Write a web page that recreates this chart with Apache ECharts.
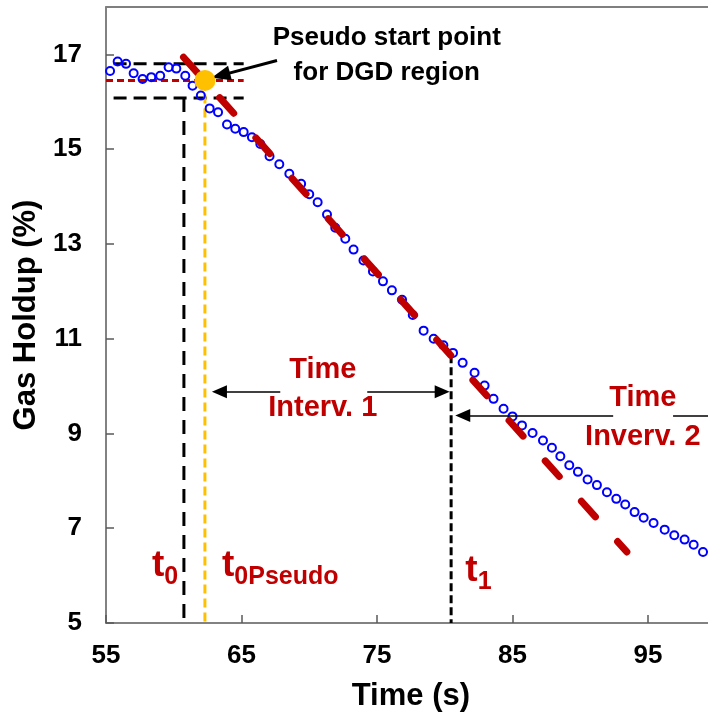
<!DOCTYPE html>
<html>
<head>
<meta charset="utf-8">
<script src="https://cdn.jsdelivr.net/npm/echarts@6/dist/echarts.min.js"></script>
<style>
html,body{margin:0;padding:0;background:#fff;}
#chart{width:708px;height:715px;}
</style>
</head>
<body>
<div id="chart"></div>
<script>
// ---- measured data ----
const timeS = [55.30,55.86,56.48,57.04,57.70,58.34,59.00,59.62,60.19,60.85,61.39,62.00,62.65,63.27,63.93,64.54,65.16,65.77,66.39,67.07,67.79,68.53,69.40,70.00,70.62,71.31,71.92,72.66,73.27,74.00,74.70,75.44,76.10,76.85,77.64,78.44,79.18,79.90,80.61,81.32,82.20,82.94,83.60,84.34,85.00,85.70,86.48,87.25,87.91,88.53,89.19,89.83,90.54,91.23,91.97,92.66,93.32,94.01,94.68,95.41,96.23,96.94,97.70,98.37,99.06];
const holdup = [16.65,16.85,16.80,16.60,16.48,16.52,16.55,16.73,16.70,16.55,16.34,16.13,15.86,15.78,15.52,15.43,15.36,15.25,15.11,14.85,14.68,14.48,14.27,14.05,13.88,13.62,13.34,13.11,12.88,12.65,12.42,12.21,12.02,11.82,11.50,11.17,11.00,10.86,10.70,10.49,10.28,10.01,9.73,9.52,9.36,9.17,9.01,8.85,8.70,8.52,8.33,8.19,8.03,7.91,7.76,7.62,7.50,7.34,7.22,7.11,6.97,6.85,6.76,6.65,6.50];

const fitT = [60.72, 93.44];
const fitH = [16.94, 6.50];

const bandT = [55.56, 65.16];
const bandUpper = 16.80;
const bandLower = 16.08;
const refLineT = [55.0, 65.16];
const refLineH = 16.45;

const t0 = 60.75;
const t0Pseudo = 62.3;
const t1 = 80.47;
const t1Holdup = 10.65;
const pseudoPoint = [62.3, 16.45];

const xTickValues = [55, 65, 75, 85, 95];
const xRange = [55, 100];
const yTickValues = [5, 7, 9, 11, 13, 15, 17];
const yRange = [5, 18];

// annotation anchors (data coordinates)
const pseudoArrow = [[67.62, 16.87], [63.47, 16.557]];
const interval1Arrows = [[[67.86, 9.88], [63.37, 9.88]], [[74.28, 9.88], [79.81, 9.88]]];
const interval2Arrows = [[[92.43, 9.38], [81.33, 9.38]], [[96.85, 9.38], [100, 9.38]]];
const noteTexts = ['Pseudo start point\nfor DGD region', 'Time\nInterv. 1', 'Time\nInverv. 2'];
const noteAt = [[75.72, 16.98], [71.0, 9.93], [94.62, 9.34]];
const tLabels = [['t', '0'], ['t', '0Pseudo'], ['t', '1']];
const tLabelAt = [[58.39, 6.10], [63.56, 6.10], [81.52, 5.99]];

// ---- build chart ----
const FONT = '"Liberation Sans", Arial, sans-serif';
const RED = '#C00000';
const ORANGE = '#FFC000';
const BLUE = '#0000FF';
const AXIS = '#595959';

const pts = timeS.map((t, i) => [t, holdup[i]]);
const fitLine = fitT.map((t, i) => [t, fitH[i]]);

function lineSeries(data, color, dash, width, z) {
  return {
    type: 'line', data: data, showSymbol: false, symbol: 'none', silent: true, z: z,
    lineStyle: {color: color, width: width, type: dash, opacity: 1}, animation: false
  };
}

const noteFonts = [
  {color: '#000', fontSize: 26, lineHeight: 35},
  {color: RED, fontSize: 29, lineHeight: 38},
  {color: RED, fontSize: 29, lineHeight: 39}
];

const noteData = noteTexts.map((txt, i) => ({
  value: noteAt[i],
  label: {
    show: true, position: 'inside', formatter: txt, align: 'center', verticalAlign: 'middle',
    fontFamily: FONT, fontWeight: 'bold', color: noteFonts[i].color,
    fontSize: noteFonts[i].fontSize, lineHeight: noteFonts[i].lineHeight, opacity: 1
  }
}));

const tData = tLabels.map((parts, i) => ({
  value: tLabelAt[i],
  label: {
    show: true, position: 'inside', align: 'left', verticalAlign: 'middle', opacity: 1,
    formatter: '{m|' + parts[0] + '}{s|' + parts[1] + '}',
    rich: {
      m: {fontFamily: FONT, fontWeight: 'bold', color: RED, fontSize: 37, lineHeight: 37, padding: [0, 0, 10, 0]},
      s: {fontFamily: FONT, fontWeight: 'bold', color: RED, fontSize: 25, lineHeight: 25, padding: [12, 0, 0, 0]}
    }
  }
}));

function arrowPairs(list) {
  return list.map(seg => [
    {coord: seg[0], symbol: 'none'},
    {coord: seg[1]}
  ]);
}

const axisLabelStyle = {fontFamily: FONT, fontWeight: 'bold', fontSize: 26, color: '#000'};

const option = {
  animation: false,
  backgroundColor: '#fff',
  grid: {left: 106, top: 7, width: 609.75, bottom: 92, show: false, containLabel: false, outerBoundsMode: 'none'},
  xAxis: [{
    type: 'value', min: xRange[0], max: xRange[1],
    name: 'Time (s)', nameLocation: 'middle', nameGap: 58,
    nameTextStyle: {fontFamily: FONT, fontWeight: 'bold', fontSize: 31, color: '#000'},
    axisLine: {show: true, lineStyle: {color: AXIS, width: 1.5}},
    axisTick: {show: true, inside: true, length: 8, lineStyle: {color: AXIS, width: 1.5}, customValues: xTickValues},
    axisLabel: Object.assign({margin: 20, customValues: xTickValues}, axisLabelStyle),
    splitLine: {show: false}
  }, {
    type: 'value', position: 'top', min: xRange[0], max: xRange[1],
    axisLine: {show: true, lineStyle: {color: '#7f7f7f', width: 2}},
    axisTick: {show: false}, axisLabel: {show: false}, splitLine: {show: false}
  }],
  yAxis: {
    type: 'value', min: yRange[0], max: yRange[1],
    name: 'Gas Holdup (%)', nameLocation: 'middle', nameGap: 59, nameRotate: 90,
    nameTextStyle: {fontFamily: FONT, fontWeight: 'bold', fontSize: 31, color: '#000'},
    axisLine: {show: true, lineStyle: {color: AXIS, width: 1.5}},
    axisTick: {show: true, inside: true, length: 8, lineStyle: {color: AXIS, width: 1.5}, customValues: yTickValues},
    axisLabel: Object.assign({margin: 24, customValues: yTickValues}, axisLabelStyle),
    splitLine: {show: false}
  },
  series: [
    // guide lines
    lineSeries(bandT.map(t => [t, bandUpper]), '#000', [13, 7], 3, 2),
    lineSeries(bandT.map(t => [t, bandLower]), '#000', [13, 7], 3, 2),
    lineSeries(refLineT.map(t => [t, refLineH]), RED, [7, 4], 3, 2),
    lineSeries([[t0, bandLower], [t0, yRange[0]]], '#000', [14, 9], 3, 2),
    lineSeries([[t0Pseudo, pseudoPoint[1]], [t0Pseudo, yRange[0]]], ORANGE, [9, 5], 3, 2),
    lineSeries([[t1, t1Holdup], [t1, yRange[0]]], '#000', [8, 4], 3, 2),
    // measured data
    {
      type: 'scatter', data: pts, symbol: 'circle', symbolSize: 8, silent: true, z: 3,
      itemStyle: {color: 'rgba(255,255,255,0)', borderColor: BLUE, borderWidth: 2, opacity: 1}
    },
    // fitted line
    {
      type: 'line', data: fitLine, showSymbol: false, symbol: 'none', silent: true, z: 4,
      lineStyle: {color: RED, width: 7, type: [21, 33.2], cap: 'round', opacity: 1}
    },
    // pseudo start point
    {
      type: 'scatter', data: [pseudoPoint], symbol: 'circle', symbolSize: 21, silent: true, z: 5,
      itemStyle: {color: ORANGE, opacity: 1}
    },
    // arrows
    {
      type: 'line', data: [], silent: true, z: 6,
      markLine: {
        silent: true, animation: false, symbol: ['none', 'triangle'], symbolSize: [15, 19],
        label: {show: false}, lineStyle: {color: '#000', width: 3, type: 'solid', opacity: 1},
        data: arrowPairs([pseudoArrow])
      }
    },
    {
      type: 'line', data: [], silent: true, z: 6,
      markLine: {
        silent: true, animation: false, symbol: ['none', 'triangle'], symbolSize: [13, 15],
        label: {show: false}, lineStyle: {color: '#000', width: 1.5, type: 'solid', opacity: 1},
        data: arrowPairs([interval1Arrows[0], interval1Arrows[1], interval2Arrows[0]]).concat([
          [{coord: interval2Arrows[1][0], symbol: 'none'}, {coord: interval2Arrows[1][1], symbol: 'none'}]
        ])
      }
    },
    // text notes
    {
      type: 'scatter', data: noteData.concat(tData), symbolSize: 1, silent: true, z: 7,
      itemStyle: {color: 'rgba(0,0,0,0)', opacity: 1}
    }
  ]
};

const chart = echarts.init(document.getElementById('chart'), null, {renderer: 'canvas'});
chart.setOption(option);
</script>
</body>
</html>
